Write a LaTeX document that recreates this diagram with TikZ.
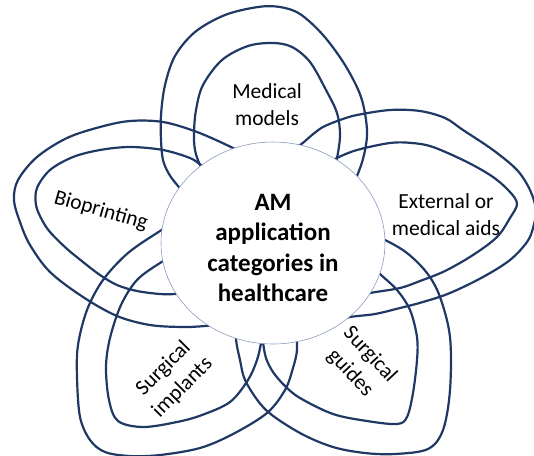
\documentclass[tikz,border=0pt]{standalone}
\usepackage{fontspec}
\setmainfont{Carlito}
\usetikzlibrary{shapes.geometric}
\definecolor{petal}{RGB}{31,56,100}
\definecolor{rim}{RGB}{140,155,190}
\begin{document}
\begin{tikzpicture}[x=1pt,y=-1pt,
  contour/.style={draw=petal, line width=2.2pt, smooth, tension=0.55},
  hub/.style={ellipse, draw=rim, line width=0.6pt, fill=white,
    minimum width=224pt, minimum height=202pt, inner sep=0pt},
  hubtext/.style={align=center, font=\fontsize{25}{30.6}\selectfont\bfseries, inner sep=0pt},
  petaltext/.style={align=center, font=\fontsize{21.5}{27}\selectfont, inner sep=0pt}]
\useasboundingbox (0,0) rectangle (534,455);
\clip (0,0) rectangle (534,455);
% top petal
\draw[contour] plot coordinates {(195,205) (178,186) (169,174) (163,160) (161,140) (161,115) (165,85) (175,56) (195,32) (225,15) (258,7) (280,7) (300,14) (323,35) (345,65) (361,97) (367,130) (364,155) (357,176) (348,195)};
\draw[contour] plot coordinates {(210,182) (200,165) (195,150) (194,133) (196,110) (203,85) (222,60) (248,46) (273,43) (292,47) (310,62) (326,90) (337,113) (340,135) (337,158) (332,175)};
% left petal
\draw[contour] plot coordinates {(250,158) (233,148) (197,132) (163,122) (130,121) (100,127) (67,138) (37,157) (18,180) (14,200) (20,222) (30,245) (50,272) (83,297) (117,316) (150,325) (183,327) (205,326) (222,324)};
\draw[contour] plot coordinates {(215,172) (201,165) (190,158) (163,150) (130,147) (100,150) (73,157) (50,170) (37,188) (36,205) (42,220) (50,232) (66,248) (83,262) (100,275) (117,285) (137,291) (160,294) (175,294) (192,292)};
% right petal
\draw[contour] plot coordinates {(285,152) (300,145) (312,135) (323,127) (340,120) (357,115) (390,110) (420,111) (445,118) (463,130) (493,150) (517,170) (530,190) (536,210) (533,228) (527,242) (510,260) (483,277) (450,293) (423,302) (400,308) (375,314) (350,317) (330,322)};
\draw[contour] plot coordinates {(320,168) (337,158) (357,150) (390,143) (412,143) (433,147) (467,162) (493,177) (510,192) (517,204) (510,218) (497,237) (473,255) (445,271) (420,281) (400,288) (370,293) (355,297)};
% bottom-left petal
\draw[contour] plot coordinates {(178,220) (160,231) (128,253) (103,280) (87,310) (78,345) (77,377) (80,417) (90,440) (105,452) (130,456) (160,455) (200,448) (233,434) (267,413) (285,390) (293,368) (297,350) (296,330)};
\draw[contour] plot coordinates {(178,253) (160,263) (137,280) (121,305) (110,338) (106,367) (109,400) (118,421) (143,427) (177,422) (202,415) (230,402) (248,380) (257,360) (261,343) (263,328)};
% bottom-right petal
\draw[contour] plot coordinates {(240,326) (236,338) (240,360) (246,382) (266,410) (300,433) (333,447) (365,453) (395,454) (428,449) (443,430) (450,390) (450,337) (440,297) (427,273) (407,253) (385,240) (368,234)};
\draw[contour] plot coordinates {(368,262) (380,274) (397,290) (410,310) (417,337) (417,360) (413,393) (407,417) (397,424) (367,421) (333,414) (300,398) (285,386) (273,372) (266,358) (263,342) (262,328)};
% hub
\node[hub] (hub) at (273,243) {};
\node[hubtext] (title) at (273,248) {AM\\application\\categories in\\healthcare};
\node[petaltext] (models) at (267,105) {Medical\\models};
\node[petaltext] (aids) at (446,214.5) {External or\\medical aids};
\node[petaltext, rotate=-16] (bio) at (101,211) {Bioprinting};
\node[petaltext, rotate=45] (implants) at (173,378) {Surgical\\implants};
\node[petaltext, rotate=-47] (guides) at (360,364) {Surgical\\guides};
\end{tikzpicture}
\end{document}
